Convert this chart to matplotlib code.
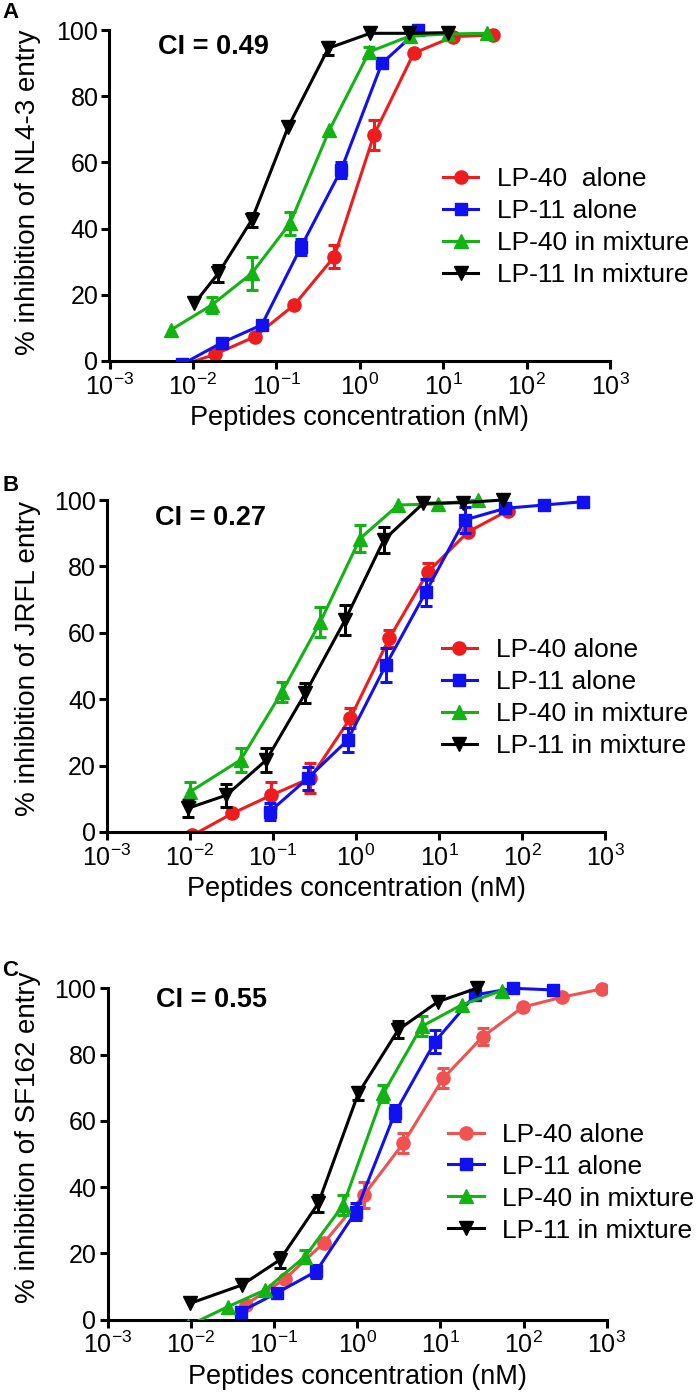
import numpy as np
import matplotlib
matplotlib.use('Agg')
import matplotlib.pyplot as plt
from matplotlib.ticker import FixedLocator, FuncFormatter, NullLocator

plt.rcParams['font.family'] = ['Liberation Sans', 'DejaVu Sans']
plt.rcParams['mathtext.fontset'] = 'custom'
plt.rcParams['mathtext.rm'] = 'Liberation Sans'
plt.rcParams['mathtext.it'] = 'Liberation Sans:italic'
plt.rcParams['mathtext.bf'] = 'Liberation Sans:bold'

# ---------------- data ----------------
# Panel A (NL4-3)
A_red_x = [0.0061, 0.0183, 0.0549, 0.165, 0.494, 1.48, 4.44, 13.3, 40]
A_red_y = [-2, 2, 7.3, 17, 31.5, 68.3, 93, 98, 98.5]
A_red_e = [0, 0, 0, 0, 3.5, 4.5, 0, 0, 0]
A_blue_x = [0.0074, 0.0221, 0.0668, 0.198, 0.597, 1.84, 5.05]
A_blue_y = [-1, 5.5, 10.9, 34.5, 57.7, 89.9, 100]
A_blue_e = [0, 0, 1, 2.5, 2.5, 0, 0]
A_green_x = [0.00546, 0.0168, 0.0507, 0.146, 0.433, 1.30, 4.01, 11.5, 33.3]
A_green_y = [9.4, 16.9, 26.5, 41.6, 69.8, 93.4, 98.2, 98.8, 99]
A_green_e = [0, 2.5, 5, 3.5, 0, 1.5, 0, 0, 0]
A_black_x = [0.0104, 0.0202, 0.0507, 0.139, 0.421, 1.33, 3.94, 11.5]
A_black_y = [17.4, 26.5, 42.6, 70.8, 94.5, 99, 99, 99.2]
A_black_e = [0, 2.5, 2, 0, 2, 0, 0, 0]

# Panel B (JRFL)
B_red_x = [0.0107, 0.0324, 0.0955, 0.282, 0.851, 2.51, 7.41, 22.4, 67.6]
B_red_y = [-1, 5.6, 11.1, 16.2, 34.2, 58.3, 78.4, 90.4, 96.8]
B_red_e = [0, 0, 4, 4.5, 3, 2.5, 2.5, 0, 0]
B_blue_x = [0.0912, 0.263, 0.794, 2.29, 6.92, 20.4, 63.1, 186, 550]
B_blue_y = [6.1, 16.2, 27.7, 50.3, 72.2, 94, 97.5, 98.5, 99.5]
B_blue_e = [2.5, 3.5, 3.5, 5, 4, 4, 0, 0, 0]
B_green_x = [0.01, 0.0407, 0.129, 0.372, 1.12, 3.23, 9.77, 29.5]
B_green_y = [12.1, 21.7, 42.3, 63.3, 88.4, 98.5, 98.8, 100]
B_green_e = [3, 3.5, 3, 4.5, 4, 0, 0, 0]
B_black_x = [0.00933, 0.0275, 0.0832, 0.245, 0.741, 2.17, 6.46, 19.5, 58.9]
B_black_y = [7.1, 11.1, 21.7, 41.8, 63.9, 88, 99, 99.2, 100]
B_black_e = [2.5, 3.5, 3.5, 3, 4.5, 4, 0, 0, 0]

# Panel C (SF162)
C_red_x = [0.0457, 0.135, 0.400, 1.21, 3.59, 10.9, 32.4, 97.7, 288, 871]
C_red_y = [4.5, 12.2, 23.2, 37.6, 53.2, 72.9, 85.4, 94.3, 97.3, 99.8]
C_red_e = [0, 0, 0, 4, 3, 3, 2.5, 0, 0, 0]
C_blue_x = [0.0402, 0.110, 0.321, 0.970, 2.85, 8.63, 26.1, 75.5, 228]
C_blue_y = [2.4, 8.1, 14.5, 32.6, 62.3, 83.9, 98, 100, 99.5]
C_blue_e = [0, 0, 2, 2.5, 2.5, 3.5, 0, 0, 0]
C_green_x = [0.00933, 0.0282, 0.0783, 0.237, 0.682, 2.07, 5.97, 18.1, 54.7]
C_green_y = [-1.9, 3.9, 8.9, 19, 34.6, 68.3, 88.5, 95, 99.3]
C_green_e = [0, 0, 0, 2, 3, 2.5, 3, 0, 0]
C_black_x = [0.0099, 0.0411, 0.118, 0.342, 1.035, 3.13, 9.46, 27.4]
C_black_y = [4.9, 10.4, 18, 35.1, 68.3, 87.5, 96, 100]
C_black_e = [0, 0, 2.5, 2.5, 2, 2.5, 0, 0]

x_ticks = [1e-3, 1e-2, 1e-1, 1e0, 1e1, 1e2, 1e3]
y_ticks = [0, 20, 40, 60, 80, 100]

panel_letters = ['A', 'B', 'C']
ci_texts = ['CI = 0.49', 'CI = 0.27', 'CI = 0.55']
y_labels = ['% inhibition of NL4-3 entry', '% inhibition of JRFL entry',
            '% inhibition of SF162 entry']
x_label = 'Peptides concentration (nM)'
legend_A = ['LP-40  alone', 'LP-11 alone', 'LP-40 in mixture', 'LP-11 In mixture']
legend_BC = ['LP-40 alone', 'LP-11 alone', 'LP-40 in mixture', 'LP-11 in mixture']

# ---------------- style / layout ----------------
W, H = 700, 1399
fig = plt.figure(figsize=(W / 100, H / 100), dpi=100)

RED = '#ee1c1c'
RED_C = '#f05252'
BLUE = '#1010f0'
GREEN = '#12b312'
BLACK = '#000000'

# pixel geometry: (x_left, x_right, y_of_0, y_of_100)
geom = [
    (109.5, 610.0, 361.0, 30.0),
    (107.0, 605.0, 832.0, 500.0),
    (107.5, 606.7, 1319.5, 988.3),
]
YMAX = 110.0
ylabel_cy = [192, 659, 1137]
letter_pos = [(2, 13), (2, 485), (2, 970)]
ci_pos = [(0.097, 94.9), (0.097, 94.6), (0.097, 96.5)]
leg_pos = [(0.666, 58.6), (0.672, 58.4), (0.682, 59.4)]

panels = [
    [(A_red_x, A_red_y, A_red_e, RED, 'o'),
     (A_blue_x, A_blue_y, A_blue_e, BLUE, 's'),
     (A_green_x, A_green_y, A_green_e, GREEN, '^'),
     (A_black_x, A_black_y, A_black_e, BLACK, 'v')],
    [(B_red_x, B_red_y, B_red_e, RED, 'o'),
     (B_blue_x, B_blue_y, B_blue_e, BLUE, 's'),
     (B_green_x, B_green_y, B_green_e, GREEN, '^'),
     (B_black_x, B_black_y, B_black_e, BLACK, 'v')],
    [(C_red_x, C_red_y, C_red_e, RED_C, 'o'),
     (C_blue_x, C_blue_y, C_blue_e, BLUE, 's'),
     (C_green_x, C_green_y, C_green_e, GREEN, '^'),
     (C_black_x, C_black_y, C_black_e, BLACK, 'v')],
]
legends = [legend_A, legend_BC, legend_BC]

LW = 2.2
MS = {'o': 9.5, 's': 9, '^': 10, 'v': 10}


def fmt_pow(v, pos):
    e = int(round(np.log10(v)))
    return r'$\mathregular{10^{%d}}$' % e


for i in range(3):
    xl, xr, y0, y100 = geom[i]
    px_per = (y0 - y100) / 100.0
    ytop = y0 - YMAX * px_per
    rect = [xl / W, 1 - y0 / H, (xr - xl) / W, (y0 - ytop) / H]
    ax = fig.add_axes(rect)
    ax.set_xscale('log')
    ax.set_xlim(x_ticks[0], x_ticks[-1])
    ax.set_ylim(0, YMAX)
    ax.patch.set_visible(False)

    handles = []
    for k, (xs, ys, es, col, mk) in enumerate(panels[i]):
        xs = np.array(xs, float)
        ys = np.array(ys, float)
        es = np.array(es, float)
        m = es > 0
        if m.any():
            ax.errorbar(xs[m], ys[m], yerr=es[m], fmt='none', ecolor=col,
                        elinewidth=LW, capsize=4.5, capthick=LW, zorder=2 + k)
        ln, = ax.plot(xs, ys, color=col, lw=LW, marker=mk, ms=MS[mk],
                      mec=col, mfc=col, zorder=2 + k)
        handles.append(ln)

    for s in ['top', 'right']:
        ax.spines[s].set_visible(False)
    for s in ['left', 'bottom']:
        ax.spines[s].set_linewidth(2.2)
    ax.spines['left'].set_bounds(0, 100)

    ax.xaxis.set_major_locator(FixedLocator(x_ticks))
    ax.xaxis.set_minor_locator(NullLocator())
    ax.xaxis.set_major_formatter(FuncFormatter(fmt_pow))
    ax.yaxis.set_major_locator(FixedLocator(y_ticks))
    ax.tick_params(axis='both', direction='out', width=2.2, labelsize=18,
                   color='black')
    ax.tick_params(axis='y', length=6, pad=2)
    ax.tick_params(axis='x', length=6, pad=3)

    ax.set_xlabel(x_label, fontsize=19.5, labelpad=4)
    fig.text(28 / W, 1 - ylabel_cy[i] / H, y_labels[i], rotation=90,
             ha='center', va='center', fontsize=20)
    lx, ly = letter_pos[i]
    fig.text(lx / W, 1 - ly / H, panel_letters[i], ha='left', va='center',
             fontsize=16, fontweight='bold')

    cx, cy = ci_pos[i]
    ax.text(cx, cy, ci_texts[i], transform=ax.get_yaxis_transform(),
            ha='left', va='center', fontsize=19.5, fontweight='bold')

    gx, gy = leg_pos[i]
    ax.legend(handles, legends[i], loc='upper left', bbox_to_anchor=(gx, gy),
              bbox_transform=ax.get_yaxis_transform(), frameon=False,
              fontsize=19, borderpad=0, borderaxespad=0, handlelength=1.35,
              handletextpad=0.7, labelspacing=0.3)

fig.savefig('out.png', dpi=100)
